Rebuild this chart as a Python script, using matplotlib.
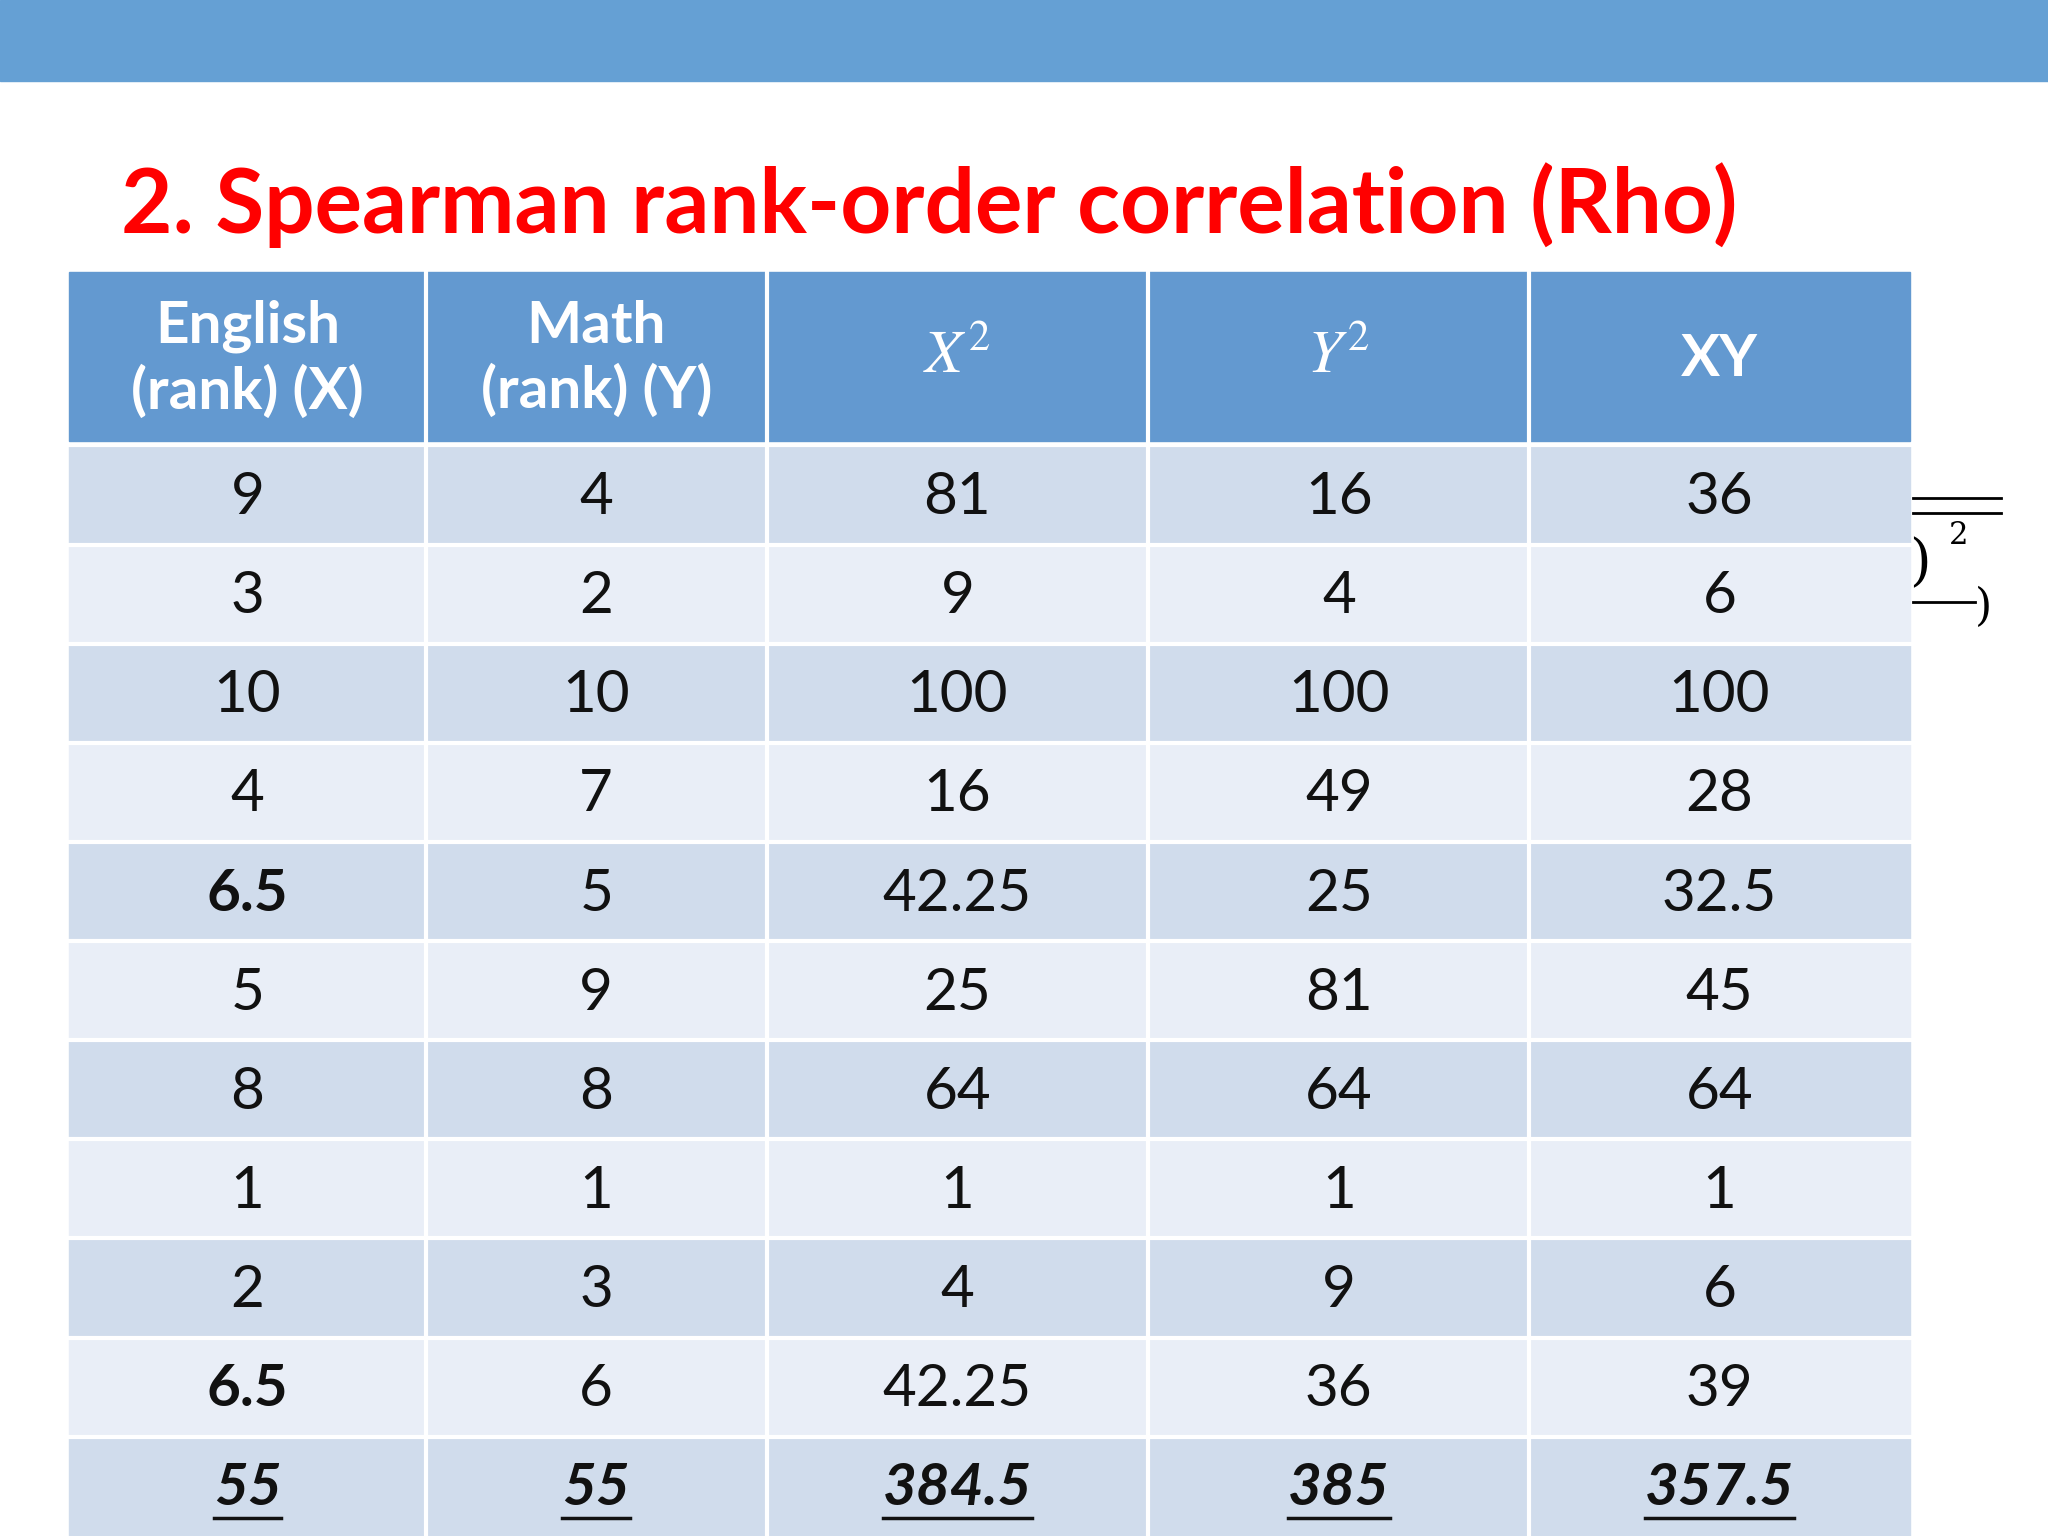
import matplotlib
matplotlib.use("Agg")
import matplotlib.pyplot as plt
from matplotlib.patches import Rectangle

headers = ["English\n(rank) (X)", "Math\n(rank) (Y)", "$X^2$", "$Y^2$", "XY"]
eng = ["9", "3", "10", "4", "6.5", "5", "8", "1", "2", "6.5"]
math_ = ["4", "2", "10", "7", "5", "9", "8", "1", "3", "6"]
x2 = ["81", "9", "100", "16", "42.25", "25", "64", "1", "4", "42.25"]
y2 = ["16", "4", "100", "49", "25", "81", "64", "1", "9", "36"]
xy = ["36", "6", "100", "28", "32.5", "45", "64", "1", "6", "39"]
totals = ["55", "55", "384.5", "385", "357.5"]
title = "2. Spearman rank-order correlation (Rho)"

W, H = 1568, 1176
fig = plt.figure(figsize=(20.48, 15.36), dpi=100)
ax = fig.add_axes([0, 0, 1, 1])
ax.set_xlim(0, W); ax.set_ylim(H, 0); ax.axis("off")
FONT = "Lato"

ax.add_patch(Rectangle((0, 0), W, 62, color="#65a0d4"))
ax.text(93, 157, title, color="#ff0000", fontsize=64, fontweight="bold",
        family=FONT, va="center", ha="left")

xe = [53, 326, 587, 879, 1171, 1462]
ax.add_patch(Rectangle((53, 208), 1409, 130, color="#6399d0"))
for i, h in enumerate(headers):
    cx = (xe[i] + xe[i+1]) / 2
    if "$" in h:
        ax.text(cx, 273, h, color="white", fontsize=44, ha="center", va="center",
                math_fontfamily="stix")
    else:
        ax.text(cx, 275, h, color="white", fontsize=42, fontweight="bold", family=FONT,
                ha="center", va="center", linespacing=1.25)

cols = [eng, math_, x2, y2, xy]
rows = list(zip(*cols)) + [tuple(totals)]
y0, rh = 341, 75.9
fig.canvas.draw()
r = fig.canvas.get_renderer()
for ri, row in enumerate(rows):
    top = y0 + ri * rh
    ax.add_patch(Rectangle((53, top), 1409, rh, color="#d0dcec" if ri % 2 == 0 else "#e9eef7"))
    ax.plot([53, 1462], [top, top], color="white", lw=3)
    for ci, v in enumerate(row):
        cx = (xe[ci] + xe[ci+1]) / 2
        cy = top + rh / 2 + 2
        bold = (ri == len(rows) - 1) or (ci == 0 and v == "6.5")
        italic = ri == len(rows) - 1
        t = ax.text(cx, cy, v, fontsize=42, family=FONT, ha="center", va="center",
                    color="#111111", fontweight="bold" if bold else "normal",
                    style="italic" if italic else "normal")
        if italic:
            bb = t.get_window_extent(r).transformed(ax.transData.inverted())
            ax.plot([bb.x0, bb.x1], [cy + 22, cy + 22], color="#111111", lw=2.5)
for xv in xe[1:-1]:
    ax.plot([xv, xv], [208, 1176], color="white", lw=3)

# fragment at right edge
ax.plot([1465, 1532], [381, 381], color="black", lw=2)
ax.plot([1465, 1532], [393, 393], color="black", lw=2)
ax.text(1462, 432, ")", fontsize=40, family="DejaVu Serif", va="center")
ax.text(1492, 410, "2", fontsize=22, family="DejaVu Serif", va="center")
ax.plot([1465, 1512], [461, 461], color="black", lw=2)
ax.text(1512, 465, ")", fontsize=32, family="DejaVu Serif", va="center")

fig.savefig("out.png", dpi=100, facecolor="white")
